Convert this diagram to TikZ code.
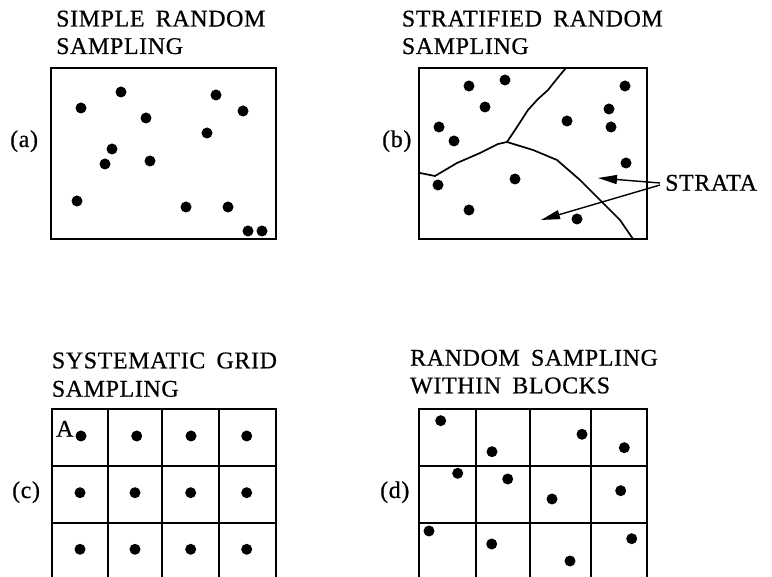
\documentclass[tikz,border=0pt]{standalone}
\usepackage{fontspec}
\setmainfont{Liberation Serif}[LetterSpace=2.5,WordSpace=1.7,FakeBold=0.6]
\usetikzlibrary{arrows.meta}
\begin{document}
\begin{tikzpicture}[x=1pt,y=-1pt,
  lbl/.style={inner sep=0pt,anchor=base west,font=\fontsize{24}{28}\selectfont},
  box/.style={line width=1.8pt},
  bound/.style={line width=1.7pt,line join=round,line cap=round},
  dot/.style={fill=black,draw=none},
  arr/.style={line width=1.4pt,-{Triangle[length=19pt,width=9pt]}}]
\useasboundingbox (0,0) rectangle (772,577);
\clip (0,0) rectangle (772,577);
% ---------- (a)
\node[lbl] (ta1) at (56,26.5) {SIMPLE RANDOM};
\node[lbl] (ta2) at (56,54) {SAMPLING};
\node[lbl] (la) at (10,147) {(a)};
\draw[box] (51,68) rectangle (276,239);
\foreach \x/\y in {81/108,121/92,146/118,216/95,243/111,207/133,112/149,105/164,150/161,77/201,186/207,228/207,248/231,262/231}
  \fill[dot] (\x,\y) circle (5.5);
% ---------- (b)
\node[lbl] (tb1) at (401.7,26.5) {STRATIFIED RANDOM};
\node[lbl] (tb2) at (401.7,54) {SAMPLING};
\node[lbl] (lb) at (382,147) {(b)};
\draw[box] (419,68) rectangle (647,239);
\draw[bound] (566,68) -- (560,75) -- (548,90) -- (538,99) -- (528,110) -- (517,127) -- (507,142);
\draw[bound] (507,142) -- (498,144) -- (480,153) -- (457,163) -- (435,176) -- (420,173);
\draw[bound] (507,142) -- (533,150) -- (557,160) -- (580,180) -- (600,200) -- (620,220) -- (633,239);
\foreach \x/\y in {469/86,505/80,485/107,439/127,454/141,567/121,625/86,609/109,611/127,626/163,438/185,515/179,469/210,577/219}
  \fill[dot] (\x,\y) circle (5.5);
\node[lbl] (strata) at (665,190.7) {STRATA};
\coordinate (st1) at (660,183);
\coordinate (st2) at (660,185);
\coordinate (tip1) at (598,178);
\coordinate (tip2) at (541,220);
\draw[arr] (st1) -- (tip1);
\draw[arr] (st2) -- (tip2);
% ---------- (c)
\node[lbl] (tc1) at (51.7,368.3) {SYSTEMATIC GRID};
\node[lbl] (tc2) at (51.7,396.7) {SAMPLING};
\node[lbl] (lc) at (12,498) {(c)};
\draw[box] (51.7,600) -- (51.7,409.3) -- (276,409.3) -- (276,600);
\foreach \x in {107.7,162.3,219} \draw[box] (\x,409.3) -- (\x,600);
\foreach \y in {466,523.3} \draw[box] (51.7,\y) -- (276,\y);
\node[lbl] (A) at (56,436.7) {A};
\foreach \x/\y in {81/436,136.7/436,191/436,246.7/436,80/492.7,135/492.7,190.7/492.7,246.7/492.7,80/549.3,135/549.3,190.7/549.3,246.7/549.3}
  \fill[dot] (\x,\y) circle (5.5);
% ---------- (d)
\node[lbl] (td1) at (410,365.7) {RANDOM SAMPLING};
\node[lbl] (td2) at (410,393.3) {WITHIN BLOCKS};
\node[lbl] (ld) at (380,498) {(d)};
\draw[box] (419.3,600) -- (419.3,409.3) -- (647.3,409.3) -- (647.3,600);
\foreach \x in {475.7,530,590.7} \draw[box] (\x,409.3) -- (\x,600);
\foreach \y in {465.7,522.7} \draw[box] (419.3,\y) -- (647.3,\y);
\foreach \x/\y in {440.7/420.7,492/451.7,582/434.3,624.3/447.7,457.7/473.3,507.7/479,552/499,620.7/490.7,429/531,491.7/544,570/561,631.7/538.7}
  \fill[dot] (\x,\y) circle (5.5);
\end{tikzpicture}
\end{document}
